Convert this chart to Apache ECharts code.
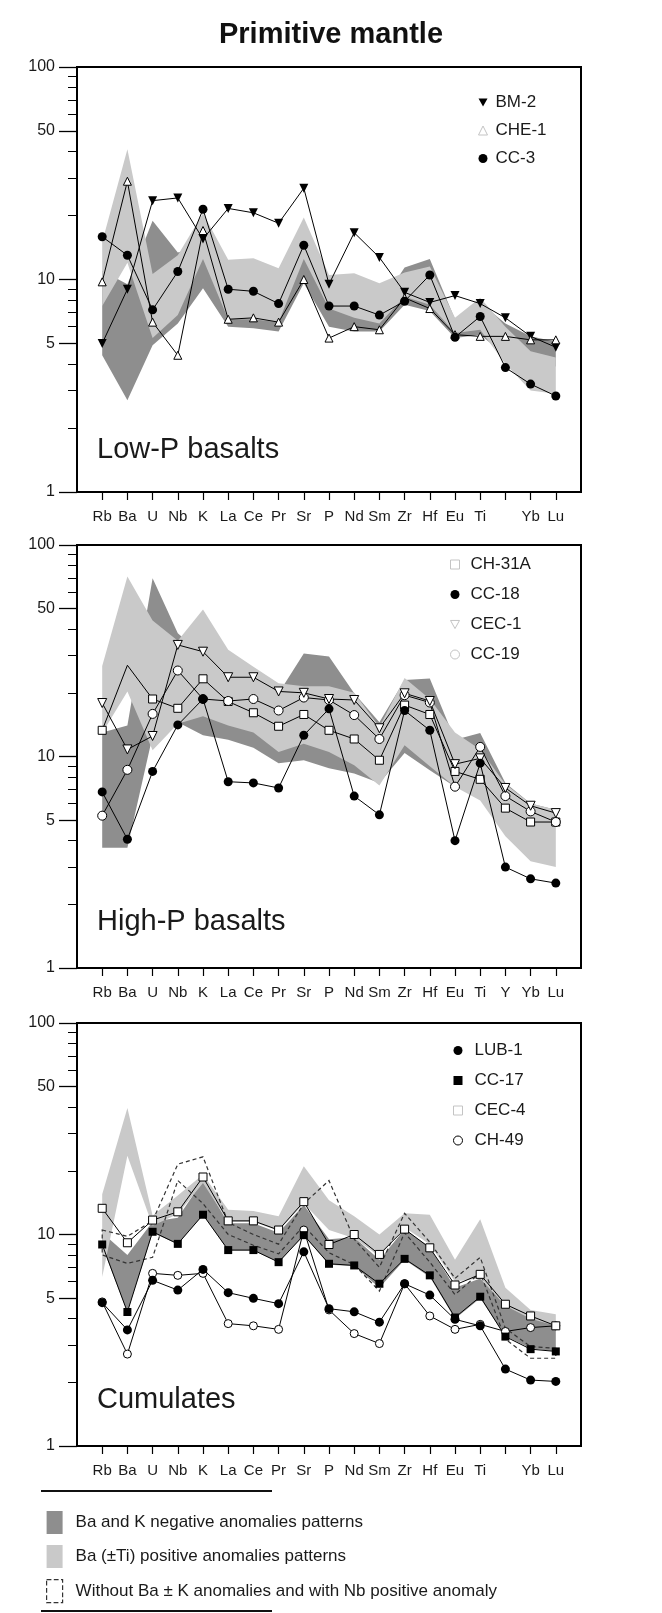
<!DOCTYPE html>
<html><head><meta charset="utf-8">
<script src="https://cdn.jsdelivr.net/npm/echarts@6/dist/echarts.min.js"></script>
<style>html,body{margin:0;padding:0;background:#fff}#c{width:662px;height:1613px}</style>
</head><body><div id="c"></div>
<script>
// ---------- data ----------
const elements = ['Rb','Ba','U','Nb','K','La','Ce','Pr','Sr','P','Nd','Sm','Zr','Hf','Eu','Ti','Y','Yb','Lu'];
const tickLabelsA = ['Rb','Ba','U','Nb','K','La','Ce','Pr','Sr','P','Nd','Sm','Zr','Hf','Eu','Ti','','Yb','Lu'];
const tickLabelsB = ['Rb','Ba','U','Nb','K','La','Ce','Pr','Sr','P','Nd','Sm','Zr','Hf','Eu','Ti','Y','Yb','Lu'];
const yMajorTicks = [1, 5, 10, 50, 100];
const yMinorTicks = [2, 3, 4, 6, 7, 8, 9, 20, 30, 40, 60, 70, 80, 90];

// Panel 1 : Low-P basalts
const BM2  = [5.0, 9.0, 23.5, 24.2, 15.5, 21.6, 20.6, 18.4, 26.9, 9.5, 16.6, 12.7, 8.7, 7.8, 8.4, 7.7, 6.6, 5.4, 4.8];
const CHE1 = [9.75, 29.0, 6.3, 4.4, 17.0, 6.5, 6.6, 6.3, 10.0, 5.3, 6.0, 5.8, 8.2, 7.3, 5.5, 5.4, 5.4, 5.2, 5.2];
const CC3  = [15.9, 13.0, 7.2, 10.9, 21.4, 9.0, 8.8, 7.7, 14.5, 7.5, 7.5, 6.8, 7.9, 10.5, 5.35, 6.7, 3.85, 3.22, 2.83];
const dark1Lo  = [4.4, 2.7, 4.9, 6.2, 9.1, 6.0, 5.9, 5.7, 9.6, 6.0, 5.7, 5.7, 7.6, 7.1, 5.3, 5.5, 4.4, 4.0, 3.9];
const dark1Hi  = [11, 9.5, 18.9, 13.4, 14.5, 9.0, 9.0, 8.5, 13.5, 7.8, 7.0, 7.5, 11.4, 12.5, 6.5, 7.8, 6.2, 5.4, 5.1];
const light1Lo = [7.5, 12, 5.3, 6.8, 12.5, 6.5, 6.5, 6.3, 12.5, 7.3, 6.6, 6.2, 8.3, 7.6, 5.6, 5.8, 4.0, 3.0, 2.9];
const light1Hi = [15, 41, 10.6, 13, 20.5, 12.4, 12.6, 11.3, 19.6, 10.5, 10.7, 9.6, 10.8, 11.5, 6.6, 8.2, 6.0, 4.6, 4.3];

// Panel 2 : High-P basalts
const CH31A = [13.3, 27, 18.7, 16.9, 23.3, 18.2, 16.1, 13.9, 15.8, 13.3, 12.1, 9.6, 17.5, 15.8, 8.5, 7.8, 5.7, 4.9, 4.9];
const CC18  = [6.8, 4.06, 8.5, 14.1, 18.7, 7.6, 7.5, 7.1, 12.6, 16.8, 6.5, 5.3, 16.5, 13.3, 4.0, 9.3, 3.0, 2.64, 2.52];
const CEC1  = [17.9, 10.8, 12.5, 33.7, 31.3, 23.7, 23.7, 20.3, 20.0, 18.7, 18.5, 13.6, 19.9, 18.3, 9.2, 9.8, 7.1, 5.85, 5.4];
const CC19  = [5.25, 8.65, 15.9, 25.5, 18.7, 18.3, 18.7, 16.5, 19.0, 18.5, 15.7, 12.1, 19.5, 18.0, 7.2, 11.1, 6.5, 5.5, 4.9];
const dark2Lo  = [3.7, 3.7, 12.5, 14.5, 12.6, 12.0, 11.0, 9.3, 9.6, 8.8, 8.3, 7.5, 10.4, 8.6, 7.2, 6.7, 5.6, 5.0, 4.8];
const dark2Hi  = [13.0, 14.0, 69.7, 38.3, 30, 24, 21, 19.9, 30.7, 29.7, 19.9, 14.5, 23.0, 23.4, 12.0, 12.9, 7.5, 6.0, 5.6];
const light2Lo = [12.9, 20.3, 10.7, 14.3, 15.5, 14.0, 13.0, 10.5, 11.5, 10.5, 9.1, 7.3, 11.3, 9.0, 7.2, 6.2, 4.2, 3.2, 3.0];
const light2Hi = [26.8, 71, 44, 35.3, 49.6, 32, 26.6, 22.2, 21.5, 21.5, 20.0, 13.8, 23.5, 18.7, 13.0, 10.8, 7.4, 6.0, 5.6];

// Panel 3 : Cumulates
const LUB1 = [4.76, 3.54, 6.07, 5.46, 6.84, 5.31, 4.99, 4.71, 8.28, 4.46, 4.31, 3.85, 5.85, 5.17, 3.97, 3.7, 2.31, 2.05, 2.02];
const CC17 = [8.97, 4.3, 10.3, 9.03, 12.4, 8.44, 8.44, 7.4, 9.93, 7.27, 7.14, 5.85, 7.67, 6.41, 4.05, 5.08, 3.29, 2.87, 2.8];
const CEC4 = [13.3, 9.14, 11.7, 12.8, 18.7, 11.6, 11.6, 10.5, 14.3, 8.97, 10.0, 8.05, 10.6, 8.65, 5.77, 6.48, 4.68, 4.12, 3.7];
const CH49 = [4.8, 2.72, 6.55, 6.41, 6.55, 3.79, 3.7, 3.56, 10.5, 4.4, 3.4, 3.05, 5.85, 4.12, 3.56, 3.76, 3.48, 3.63, 3.7];
const dark3Lo  = [8.8, 4.3, 10.2, 9.0, 12.4, 8.4, 8.4, 7.4, 9.9, 7.2, 7.1, 5.6, 7.6, 6.3, 4.0, 5.0, 3.3, 2.9, 2.8];
const dark3Hi  = [10.2, 8.0, 11.5, 12.0, 18.0, 11.3, 11.3, 10.2, 13.8, 9.5, 9.7, 7.6, 10.6, 8.7, 5.6, 6.2, 4.7, 4.1, 3.7];
const light3Lo = [6.3, 23.6, 11.0, 12.5, 17.5, 11.5, 11.5, 10.4, 14.0, 10.5, 9.6, 7.9, 10.8, 9.0, 6.0, 6.2, 4.6, 4.0, 3.7];
const light3Hi = [15.5, 39.6, 12.3, 15.3, 19.2, 13.1, 12.9, 12.2, 21.0, 14.5, 12.2, 10.0, 12.6, 12.4, 7.6, 11.8, 5.6, 4.4, 4.2];
const dash3Lo  = [8.0, 7.3, 7.8, 18.0, 14.0, 10.0, 8.9, 8.1, 11.0, 8.2, 7.2, 5.4, 10.2, 7.4, 5.2, 6.6, 3.2, 2.6, 2.6];
const dash3Hi  = [10.5, 9.8, 11.6, 21.5, 23.3, 11.4, 10.0, 9.0, 14.0, 18.0, 9.5, 7.0, 12.6, 9.2, 6.2, 7.8, 3.6, 2.95, 2.9];

const bandNames = ['Ba and K negative anomalies patterns', 'Ba (\u00B1Ti) positive anomalies patterns', 'Without Ba \u00B1 K anomalies and with Nb positive anomaly'];
const panelNames = ['Low-P basalts', 'High-P basalts', 'Cumulates'];

// ---------- layout / style ----------
const FONT = 'Liberation Sans, Arial, Helvetica, sans-serif';
const TXT = '#1a1a1a';
const DARK = '#8e8e8e', LIGHT = '#c9c9c9';
const gridTops = [67, 545, 1023];
const gridHs = [425, 423, 423];
const idx = elements.map((_, i) => i);

const grids = [], xAxes = [], yAxes = [];
[tickLabelsA, tickLabelsB, tickLabelsA].forEach((labs, g) => {
  grids.push({left: 77, top: gridTops[g], width: 504, height: gridHs[g], show: true,
    borderColor: '#000', borderWidth: 2, backgroundColor: 'rgba(0,0,0,0)'});
  xAxes.push({type: 'value', gridIndex: g, min: -1, max: 19, position: 'bottom',
    axisLine: {onZero: false, lineStyle: {color: '#000', width: 2}},
    axisTick: {customValues: idx, length: 8, lineStyle: {color: '#000', width: 1.2}},
    axisLabel: {customValues: idx, formatter: v => labs[Math.round(v)] || '', margin: 17,
      fontSize: 15, fontFamily: FONT, color: TXT},
    splitLine: {show: false}});
  yAxes.push({type: 'log', logBase: 10, gridIndex: g, min: 1, max: 100, position: 'left',
    axisLine: {show: true, onZero: false, lineStyle: {color: '#000', width: 2}},
    axisTick: {customValues: yMajorTicks, length: 18, lineStyle: {color: '#000', width: 1.3}},
    axisLabel: {customValues: yMajorTicks, margin: 22, fontSize: 16, fontFamily: FONT, color: TXT},
    splitLine: {show: false}});
  yAxes.push({type: 'log', logBase: 10, gridIndex: g, min: 1, max: 100, position: 'left',
    axisLine: {show: false, onZero: false},
    axisTick: {customValues: yMinorTicks, length: 9, lineStyle: {color: '#000', width: 1}},
    axisLabel: {show: false}, splitLine: {show: false}});
});

function band(name, g, lo, hi, style, z) {
  return {type: 'custom', name, xAxisIndex: g, yAxisIndex: g * 2, z, silent: true,
    itemStyle: {color: style.fill === 'none' ? '#fff' : style.fill},
    data: [[0, 10]],
    renderItem: (params, api) => {
      const pts = [];
      for (let i = 0; i < hi.length; i++) pts.push(api.coord([i, hi[i]]));
      for (let i = lo.length - 1; i >= 0; i--) pts.push(api.coord([i, lo[i]]));
      return {type: 'polygon', shape: {points: pts}, style: style};
    }};
}

function line(name, g, vals, symbol, filled, size, opts) {
  const s = {type: 'line', name, xAxisIndex: g, yAxisIndex: g * 2, z: 5,
    data: vals.map((v, i) => [i, v]),
    symbol, symbolSize: size, showSymbol: true,
    lineStyle: {color: '#000', width: 1},
    itemStyle: filled ? {color: '#000', borderColor: '#000', borderWidth: 0}
                      : {color: '#fff', borderColor: '#000', borderWidth: 1},
    emphasis: {disabled: true}};
  return Object.assign(s, opts || {});
}

const ch31aData = CH31A.map((v, i) => i === 1 ? {value: [i, v], symbol: 'none'} : [i, v]);

const series = [
  band(bandNames[0], 0, dark1Lo, dark1Hi, {fill: DARK}, 1),
  band(bandNames[1], 0, light1Lo, light1Hi, {fill: LIGHT}, 2),
  band(bandNames[0], 1, dark2Lo, dark2Hi, {fill: DARK}, 1),
  band(bandNames[1], 1, light2Lo, light2Hi, {fill: LIGHT}, 2),
  band(bandNames[0], 2, dark3Lo, dark3Hi, {fill: DARK}, 1),
  band(bandNames[1], 2, light3Lo, light3Hi, {fill: LIGHT}, 2),
  band(bandNames[2], 2, dash3Lo, dash3Hi, {fill: 'none', stroke: '#333', lineWidth: 1.2, lineDash: [4, 3]}, 3),
  line('BM-2', 0, BM2, 'triangle', true, 9, {symbolRotate: 180}),
  line('CHE-1', 0, CHE1, 'triangle', false, 8),
  line('CC-3', 0, CC3, 'circle', true, 9),
  line('CH-31A', 1, CH31A, 'rect', false, 8, {data: ch31aData}),
  line('CC-19', 1, CC19, 'circle', false, 9),
  line('CEC-1', 1, CEC1, 'triangle', false, 9, {symbolRotate: 180}),
  line('CC-18', 1, CC18, 'circle', true, 9, {z: 6}),
  line('CH-49', 2, CH49, 'circle', false, 8),
  line('CEC-4', 2, CEC4, 'rect', false, 8),
  line('CC-17', 2, CC17, 'rect', true, 8),
  line('LUB-1', 2, LUB1, 'circle', true, 9, {z: 6})
];

const INV = 'path://M0,0L10,0L5,9Z';
const faint = {color: '#fff', borderColor: '#c4c4c4', borderWidth: 1};
const solid = {color: '#000', borderWidth: 0};
function legendBox(left, top, gap, pad, data) {
  return {left, top, orient: 'vertical', padding: 0, itemGap: gap, itemWidth: 9, itemHeight: 9,
    selectedMode: false, textStyle: {fontSize: 17, fontFamily: FONT, color: TXT, padding: [0, 0, 0, pad]},
    data};
}
const legends = [
  legendBox(478, 94, 11, 3, [
    {name: 'BM-2', icon: INV, itemStyle: solid},
    {name: 'CHE-1', icon: 'triangle', itemStyle: faint},
    {name: 'CC-3', icon: 'circle', itemStyle: solid}]),
  legendBox(450, 556, 13, 6, [
    {name: 'CH-31A', icon: 'rect', itemStyle: faint},
    {name: 'CC-18', icon: 'circle', itemStyle: solid},
    {name: 'CEC-1', icon: INV, itemStyle: faint},
    {name: 'CC-19', icon: 'circle', itemStyle: faint}]),
  legendBox(453, 1042, 13, 7, [
    {name: 'LUB-1', icon: 'circle', itemStyle: solid},
    {name: 'CC-17', icon: 'rect', itemStyle: solid},
    {name: 'CEC-4', icon: 'rect', itemStyle: faint},
    {name: 'CH-49', icon: 'circle', itemStyle: {color: '#fff', borderColor: '#000', borderWidth: 1}}]),
  {left: 46, top: 1511, orient: 'vertical', padding: 0, itemGap: 11, itemWidth: 16, itemHeight: 23,
    selectedMode: false, textStyle: {fontSize: 17, fontFamily: FONT, color: TXT, padding: [0, 0, 0, 8]},
    data: [
      {name: bandNames[0], icon: 'rect', itemStyle: {color: DARK, borderWidth: 0}},
      {name: bandNames[1], icon: 'rect', itemStyle: {color: LIGHT, borderWidth: 0}},
      {name: bandNames[2], icon: 'rect', itemStyle: {color: 'rgba(0,0,0,0)', borderColor: '#333', borderWidth: 1.2, borderType: 'dashed'}}]}
];

const labelYs = [450, 922, 1400];
const graphics = panelNames.map((t, i) => ({type: 'text', x: 97, y: labelYs[i], z: 10,
  style: {text: t, fontSize: 29, fontFamily: FONT, fill: TXT, verticalAlign: 'middle'}}));
graphics.push({type: 'line', shape: {x1: 41, y1: 1491, x2: 272, y2: 1491}, style: {stroke: '#111', lineWidth: 2}});
graphics.push({type: 'line', shape: {x1: 41, y1: 1611, x2: 272, y2: 1611}, style: {stroke: '#111', lineWidth: 2}});

const option = {
  animation: false,
  backgroundColor: '#fff',
  title: {text: 'Primitive mantle', left: 'center', top: 15,
    textStyle: {fontSize: 29, fontWeight: 'bold', fontFamily: FONT, color: '#111'}},
  grid: grids, xAxis: xAxes, yAxis: yAxes,
  legend: legends, series, graphic: graphics
};
const chart = echarts.init(document.getElementById('c'), null, {renderer: 'canvas'});
chart.setOption(option);
</script></body></html>
